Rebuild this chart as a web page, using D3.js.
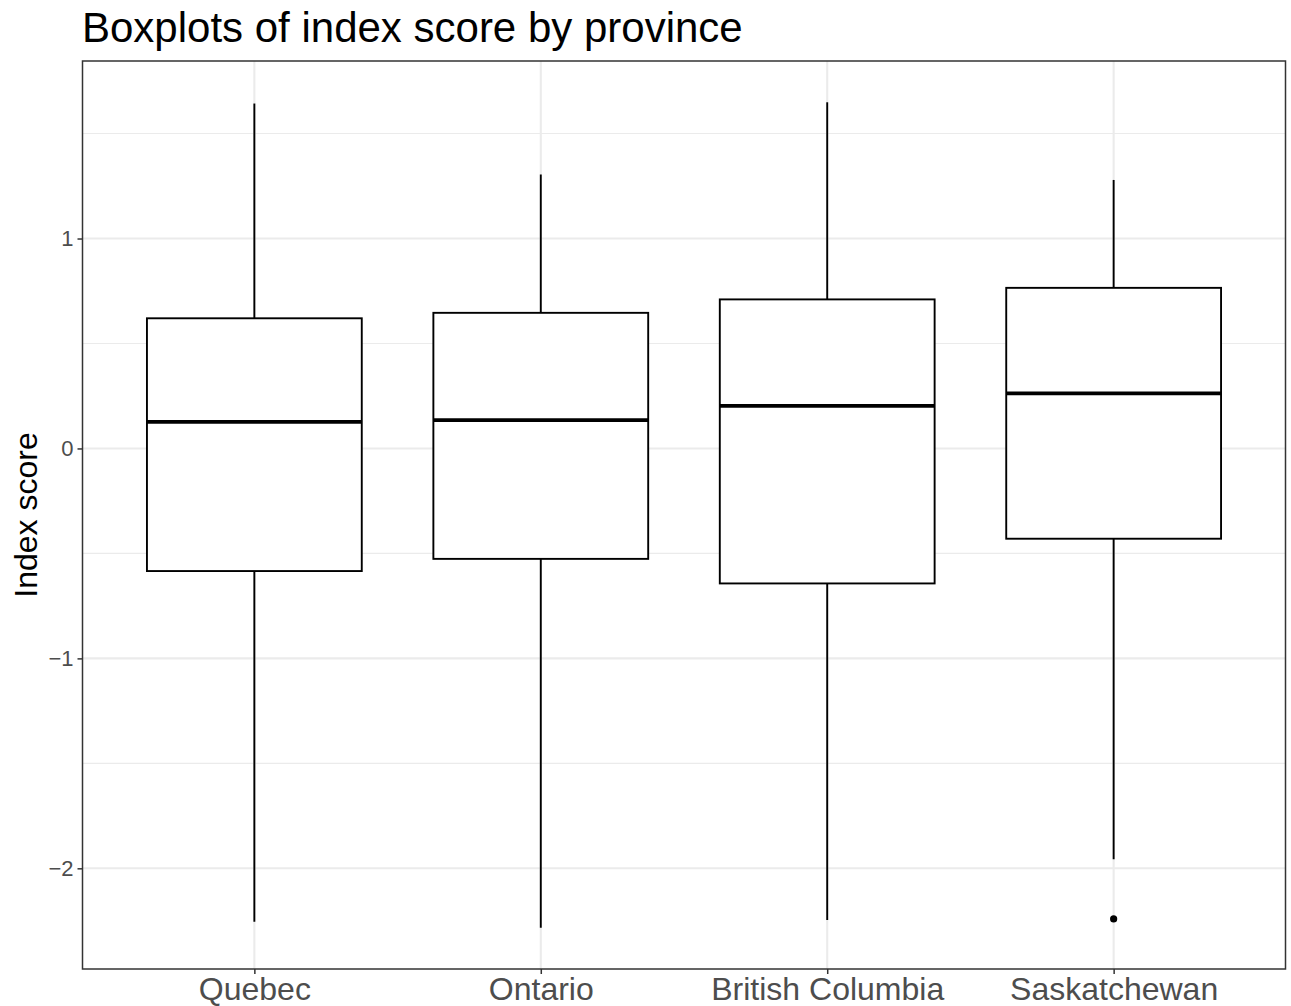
<!DOCTYPE html>
<html>
<head>
<meta charset="utf-8">
<script src="https://cdn.jsdelivr.net/npm/d3@7"></script>
<style>
  html, body { margin: 0; padding: 0; background: #fff; }
  svg { display: block; font-family: "Liberation Sans", Arial, Helvetica, sans-serif; }
</style>
</head>
<body>
<svg id="chart" width="1291" height="1006"></svg>
<script>
// ---- Data ----
const categories = ["Quebec", "Ontario", "British Columbia", "Saskatchewan"];
const whiskerLow  = [-2.254, -2.283, -2.246, -1.957];
const q1          = [-0.584, -0.526, -0.643, -0.430];
const median      = [ 0.127,  0.135,  0.203,  0.262];
const q3          = [ 0.620,  0.646,  0.710,  0.765];
const whiskerHigh = [ 1.643,  1.305,  1.649,  1.279];
const outlierCategory = ["Saskatchewan"];
const outlierValue    = [-2.241];
const yTicks = [-2, -1, 0, 1];
const yMinorTicks = [-1.5, -0.5, 0.5, 1.5];
const titleText = "Boxplots of index score by province";
const yTitle = "Index score";

// ---- Layout ----
const panel = { left: 82.5, right: 1285.5, top: 61, bottom: 969 };
const svg = d3.select("#chart");

const dataMin = d3.min([...whiskerLow, ...outlierValue]);
const dataMax = d3.max(whiskerHigh);
const expand = (dataMax - dataMin) * 0.05;

const x = d3.scalePoint().domain(categories).range([panel.left, panel.right]).padding(0.6);
const y = d3.scaleLinear().domain([dataMin - expand, dataMax + expand]).range([panel.bottom, panel.top]);
const boxW = x.step() * 0.75;

const boxes = categories.map((c, i) => ({
  cat: c, lo: whiskerLow[i], q1: q1[i], med: median[i], q3: q3[i], hi: whiskerHigh[i]
}));

// panel background
svg.append("rect")
  .attr("x", panel.left).attr("y", panel.top)
  .attr("width", panel.right - panel.left).attr("height", panel.bottom - panel.top)
  .attr("fill", "#fff");

// grid
const grid = svg.append("g");
grid.selectAll(".minor").data(yMinorTicks).join("line")
  .attr("x1", panel.left).attr("x2", panel.right)
  .attr("y1", d => y(d)).attr("y2", d => y(d))
  .attr("stroke", "#ebebeb").attr("stroke-width", 1.1);
grid.selectAll(".major").data(yTicks).join("line")
  .attr("x1", panel.left).attr("x2", panel.right)
  .attr("y1", d => y(d)).attr("y2", d => y(d))
  .attr("stroke", "#ebebeb").attr("stroke-width", 2.1);
grid.selectAll(".vmajor").data(categories).join("line")
  .attr("x1", d => x(d)).attr("x2", d => x(d))
  .attr("y1", panel.top).attr("y2", panel.bottom)
  .attr("stroke", "#ebebeb").attr("stroke-width", 2.1);

// boxplots
const g = svg.append("g");
const bx = g.selectAll(".box").data(boxes).join("g");
bx.append("line")
  .attr("x1", d => x(d.cat)).attr("x2", d => x(d.cat))
  .attr("y1", d => y(d.hi)).attr("y2", d => y(d.q3))
  .attr("stroke", "#000").attr("stroke-width", 1.9);
bx.append("line")
  .attr("x1", d => x(d.cat)).attr("x2", d => x(d.cat))
  .attr("y1", d => y(d.q1)).attr("y2", d => y(d.lo))
  .attr("stroke", "#000").attr("stroke-width", 1.9);
bx.append("rect")
  .attr("x", d => x(d.cat) - boxW / 2).attr("width", boxW)
  .attr("y", d => y(d.q3)).attr("height", d => y(d.q1) - y(d.q3))
  .attr("fill", "#fff").attr("stroke", "#000").attr("stroke-width", 1.9);
bx.append("line")
  .attr("x1", d => x(d.cat) - boxW / 2).attr("x2", d => x(d.cat) + boxW / 2)
  .attr("y1", d => y(d.med)).attr("y2", d => y(d.med))
  .attr("stroke", "#000").attr("stroke-width", 3.8);

// outliers
g.selectAll(".out").data(outlierValue.map((v, i) => ({ cat: outlierCategory[i], v })))
  .join("circle")
  .attr("cx", d => x(d.cat)).attr("cy", d => y(d.v)).attr("r", 3.6).attr("fill", "#000");

// panel border
svg.append("rect")
  .attr("x", panel.left).attr("y", panel.top)
  .attr("width", panel.right - panel.left).attr("height", panel.bottom - panel.top)
  .attr("fill", "none").attr("stroke", "#333").attr("stroke-width", 1.5);

// y axis
const yAxis = svg.append("g")
  .attr("transform", `translate(${panel.left},0)`)
  .call(d3.axisLeft(y).tickValues(yTicks).tickSize(5).tickPadding(4)
        .tickFormat(d => d < 0 ? "\u2212" + Math.abs(d) : String(d)));
yAxis.select(".domain").remove();
yAxis.selectAll(".tick line").attr("stroke", "#333").attr("stroke-width", 1.5);
yAxis.selectAll(".tick text").attr("fill", "#4d4d4d").style("font-size", "22px")
  .style("font-family", "'Liberation Sans', Arial, sans-serif");

// x axis
const xAxis = svg.append("g")
  .attr("transform", `translate(0,${panel.bottom})`)
  .call(d3.axisBottom(x).tickSize(5).tickPadding(3));
xAxis.select(".domain").remove();
xAxis.selectAll(".tick line").attr("stroke", "#333").attr("stroke-width", 1.5);
xAxis.selectAll(".tick text").attr("fill", "#4d4d4d").style("font-size", "32px")
  .style("font-family", "'Liberation Sans', Arial, sans-serif");

// titles
svg.append("text")
  .attr("x", 82).attr("y", 42)
  .style("font-size", "42px").attr("fill", "#000")
  .text(titleText);

svg.append("text")
  .attr("transform", `translate(37,${(panel.top + panel.bottom) / 2}) rotate(-90)`)
  .attr("text-anchor", "middle")
  .style("font-size", "32px").attr("fill", "#000")
  .text(yTitle);
</script>
</body>
</html>
